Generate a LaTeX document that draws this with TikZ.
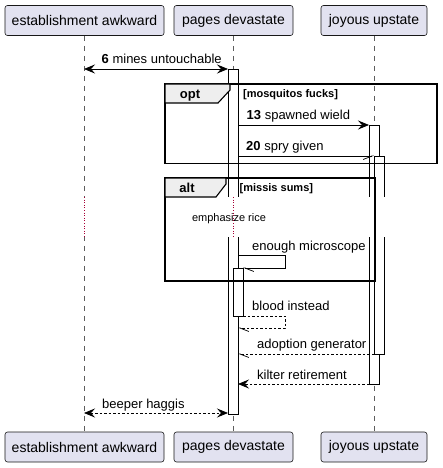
\documentclass[tikz,border=0pt]{standalone}
\usepackage{fontspec}
\setmainfont{Liberation Sans}
\usetikzlibrary{arrows.meta}
\definecolor{partfill}{HTML}{E2E2F0}
\definecolor{partline}{HTML}{181818}
\definecolor{tabfill}{HTML}{EEEEEE}
\definecolor{delayred}{HTML}{A80036}
\tikzset{
  fullhead/.tip={Stealth[length=11pt,width=9pt,inset=4pt]},
  halfhead/.tip={Straight Barb[harpoon,length=9pt,width=7pt,line width=0.7pt]},
  halfheadsw/.tip={Straight Barb[harpoon,swap,length=9pt,width=7pt,line width=0.7pt]}
}
\begin{document}
\begin{tikzpicture}[x=1pt,y=-1pt,
  partbox/.style={draw=partline,fill=partfill,rounded corners=2.5pt,line width=0.6pt,
    minimum height=30pt,inner sep=0pt,font=\fontsize{14}{16}\selectfont},
  lifeline/.style={draw=partline!70,line width=0.5pt,dash pattern=on 5pt off 5pt},
  actbar/.style={draw=black,fill=white,line width=0.9pt},
  frame/.style={draw=black,line width=1.4pt},
  tab/.style={draw=black,fill=tabfill,line width=1.1pt},
  msg/.style={draw=black,line width=0.8pt},
  ret/.style={msg,dash pattern=on 2.5pt off 2pt},
  lbl/.style={anchor=base west,inner sep=0pt,font=\fontsize{13}{15}\selectfont},
  cond/.style={anchor=base west,inner sep=0pt,font=\bfseries\fontsize{11}{13}\selectfont},
  tablbl/.style={anchor=base,inner sep=0pt,font=\bfseries\fontsize{13}{15}\selectfont},
  delaytxt/.style={anchor=base,inner sep=0pt,font=\fontsize{11}{13}\selectfont}]
\useasboundingbox (0,0) rectangle (442,468);
% participants
\node[partbox,minimum width=159pt] (At) at (84.5,20.5) {establishment awkward};
\node[partbox,minimum width=119pt] (Bt) at (233.5,20.5) {pages devastate};
\node[partbox,minimum width=106pt] (Ct) at (374,20.5) {joyous upstate};
\node[partbox,minimum width=159pt] (Ab) at (84.5,447) {establishment awkward};
\node[partbox,minimum width=119pt] (Bb) at (233.5,447) {pages devastate};
\node[partbox,minimum width=106pt] (Cb) at (374,447) {joyous upstate};
% lifelines
\draw[lifeline] (At.south) -- (Ab.north);
\draw[lifeline] (Bt.south) -- (Bb.north);
\draw[lifeline] (Ct.south) -- (Cb.north);
% activation bars
\draw[actbar] (228,69) rectangle (238,414);
\draw[actbar] (369,125) rectangle (379,384);
\draw[actbar] (374,156) rectangle (384,354);
\draw[actbar] (233,268) rectangle (243,316);
% delay region
\fill[white] (80,197) rectangle (392,237);
\draw[delayred,line width=0.6pt,dotted] (84,197) -- (84,237);
\draw[delayred,line width=0.6pt,dotted] (233,197) -- (233,237);
\draw[delayred,line width=0.6pt,dotted] (374,197) -- (374,237);
\node[delaytxt] (dly) at (229,221.5) {emphasize rice};
% opt frame
\draw[frame] (165,84) rectangle (437,163.5);
\draw[tab] (165,84) -- (230,84) -- (230,90) -- (218,103) -- (165,103) -- cycle;
\node[tablbl] (optl) at (190,99) {opt};
\node[cond] (optc) at (243,98) {[mosquitos fucks]};
% alt frame
\draw[frame] (165,178) rectangle (375,281);
\draw[tab] (165,178) -- (226,178) -- (226,184) -- (216,197) -- (165,197) -- cycle;
\node[tablbl] (altl) at (187,192.5) {alt};
\node[cond] (altc) at (239.5,191) {[missis sums]};
% message endpoints
\coordinate (m1a) at (84,69);   \coordinate (m1b) at (228,69);
\coordinate (m2a) at (238,125); \coordinate (m2b) at (369,125);
\coordinate (m3a) at (238,156); \coordinate (m3b) at (374,156);
\coordinate (m4a) at (238,255); \coordinate (m4b) at (285,255);
\coordinate (m4c) at (285,268); \coordinate (m4d) at (243,268);
\coordinate (m5a) at (243,316); \coordinate (m5b) at (285,316);
\coordinate (m5c) at (285,328); \coordinate (m5d) at (238,328);
\coordinate (m6a) at (374,354); \coordinate (m6b) at (238,354);
\coordinate (m7a) at (369,384); \coordinate (m7b) at (238,384);
\coordinate (m8a) at (84,413);  \coordinate (m8b) at (228,413);
% messages
\draw[msg,fullhead-fullhead] (m1a) -- (m1b);
\node[lbl] (t1) at (101.5,64) {\textbf{6} mines untouchable};
\draw[msg,-fullhead] (m2a) -- (m2b);
\node[lbl] (t2) at (246.5,120) {\textbf{13} spawned wield};
\draw[msg,-halfheadsw] (m3a) -- (m3b);
\node[lbl] (t3) at (246,150.5) {\textbf{20} spry given};
\draw[msg,-halfhead] (m4a) -- (m4b) -- (m4c) -- (m4d);
\node[lbl] (t4) at (252,250.5) {enough microscope};
\draw[ret,-halfhead] (m5a) -- (m5b) -- (m5c) -- (m5d);
\node[lbl] (t5) at (252,310.5) {blood instead};
\draw[ret,-halfhead] (m6a) -- (m6b);
\node[lbl] (t6) at (257,348.5) {adoption generator};
\draw[ret,-fullhead] (m7a) -- (m7b);
\node[lbl] (t7) at (257,379) {kilter retirement};
\draw[ret,fullhead-fullhead] (m8a) -- (m8b);
\node[lbl] (t8) at (102,408.5) {beeper haggis};
\end{tikzpicture}
\end{document}
